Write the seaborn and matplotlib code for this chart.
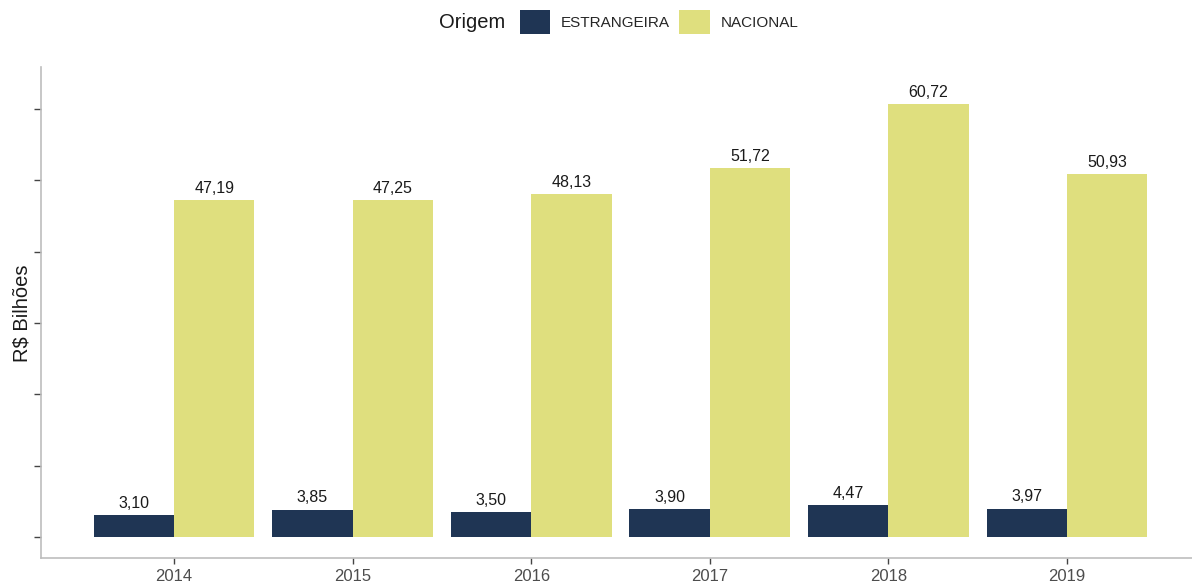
import pandas as pd
import matplotlib.pyplot as plt
import seaborn as sns
from matplotlib.patches import Patch

# dados (R$ bilhões)
anos = ["2014", "2015", "2016", "2017", "2018", "2019"]
estrangeira = [3.10, 3.85, 3.50, 3.90, 4.47, 3.97]
nacional = [47.19, 47.25, 48.13, 51.72, 60.72, 50.93]
origens = ["ESTRANGEIRA", "NACIONAL"]
cores = ["#1f3554", "#dfdf7e"]

data = pd.DataFrame({
    "ano": anos * 2,
    "valor": estrangeira + nacional,
    "origem": [origens[0]] * len(anos) + [origens[1]] * len(anos),
})

sns.set_style("white")
plt.rcParams["font.family"] = ["Liberation Sans", "DejaVu Sans"]

fig = plt.figure(figsize=(11.92, 5.84), dpi=100)
ax = fig.add_axes([41 / 1192, 1 - 558 / 584, 1 - 41 / 1192, (558 - 67) / 584])

sns.barplot(data=data, x="ano", y="valor", hue="origem", hue_order=origens,
            palette=cores, width=0.9, gap=0, errorbar=None, saturation=1,
            legend=False, linewidth=0, ax=ax)

for cont in ax.containers:
    labels = [f"{b.get_height():.2f}".replace(".", ",") for b in cont]
    ax.bar_label(cont, labels=labels, padding=3, fontsize=11.5, color="#1a1a1a")

ax.set_xlim(-0.745, 5.70)
ax.set_ylim(-2.95, 65.9)
ax.set_yticks(range(0, 70, 10))
ax.set_yticklabels([])
ax.set_xlabel("")
ax.set_ylabel("")
ax.tick_params(axis="x", length=4, width=1, color="#444444", labelsize=12,
               labelcolor="#4d4d4d", pad=4, bottom=True)
ax.tick_params(axis="y", length=5, width=1, color="#444444", left=True)

for s in ["top", "right"]:
    ax.spines[s].set_visible(False)
for s in ["left", "bottom"]:
    ax.spines[s].set_color("#bdbdbd")
    ax.spines[s].set_linewidth(1.2)

fig.text(22 / 1192, 1 - 313 / 584, "R$ Bilhões", fontsize=14.5, color="#1a1a1a",
         rotation=90, ha="center", va="center")

# legenda no topo
handles = [Patch(facecolor=c, edgecolor="none") for c in cores]
fig.text(472 / 1192, 1 - 23 / 584, "Origem", fontsize=14.5, color="#1a1a1a",
         ha="center", va="center")
fig.legend(handles, origens, loc="center", bbox_to_anchor=(659 / 1192, 1 - 22 / 584),
           ncol=2, frameon=False, fontsize=11, handlelength=2.0, handleheight=2.0,
           handletextpad=0.7, columnspacing=0.6, borderpad=0)

fig.savefig("out.png", dpi=100)
